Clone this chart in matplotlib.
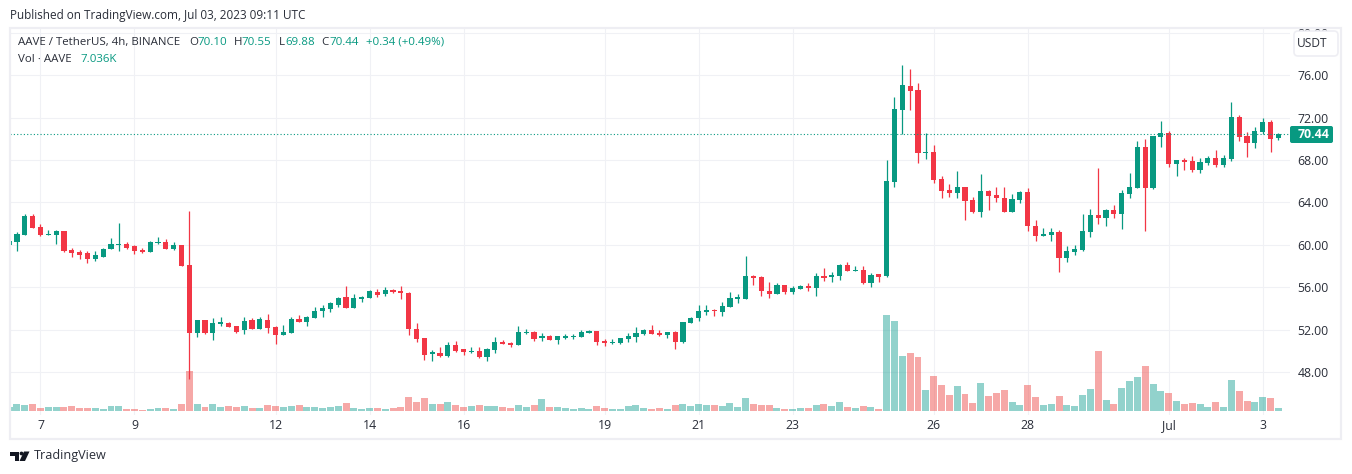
import numpy as np
import matplotlib
matplotlib.use('Agg')
import matplotlib.pyplot as plt
from matplotlib.patches import FancyBboxPatch, Rectangle, Polygon, Circle

plt.rcParams['font.family'] = ['Open Sans', 'DejaVu Sans']

# velas de 4h, del 6 de junio al 3 de julio (precio en USDT)
opens = [60.0, 60.28, 60.94, 62.73, 61.69, 60.94, 60.94, 61.32, 59.52, 59.33, 59.24, 58.67, 58.86, 59.62, 59.99, 60.09,
         59.9, 59.52, 59.33, 60.18, 60.28, 59.62, 59.99, 58.11, 51.69, 52.92, 51.69, 52.54, 52.64, 52.35, 51.98, 52.92,
         52.07, 52.92, 52.26, 51.5, 51.69, 53.01, 52.73, 53.11, 53.77, 53.96, 54.33, 55.08, 54.05, 54.9, 54.99, 55.55,
         55.37, 55.74, 55.65, 55.46, 52.06, 51.21, 49.71, 49.8, 49.52, 50.55, 50.18, 49.89, 49.99, 49.42, 50.08, 50.84,
         50.74, 50.55, 51.69, 51.78, 51.21, 51.4, 51.03, 51.21, 51.31, 51.31, 51.69, 51.87, 50.93, 50.74, 50.74, 51.12,
         51.31, 51.59, 51.97, 51.69, 51.5, 51.78, 50.84, 52.63, 53.1, 53.67, 53.86, 53.67, 54.14, 54.89, 54.89, 57.06,
         56.97, 55.65, 55.36, 56.21, 55.55, 55.84, 56.12, 55.93, 57.06, 56.97, 57.06, 58.1, 57.53, 57.63, 56.4, 57.25,
         57.06, 65.93, 72.72, 74.99, 74.61, 68.67, 68.76, 66.21, 65.18, 64.89, 65.46, 64.23, 63.1, 65.08, 64.7, 64.42,
         63.1, 64.23, 64.99, 61.78, 60.84, 60.93, 61.21, 58.76, 59.33, 59.52, 61.21, 62.82, 62.53, 63.29, 62.91, 64.8,
         65.36, 69.23, 65.36, 70.18, 70.55, 67.63, 68.0, 67.91, 67.06, 67.72, 68.2, 67.53, 68.1, 72.06, 70.27, 69.61,
         70.65, 71.59, 70.10]
highs = [60.4, 61.19, 62.92, 62.92, 61.98, 61.41, 61.41, 61.32, 59.71, 59.52, 59.43, 59.43, 59.71, 60.66, 62.07, 60.28,
         59.99, 59.71, 60.37, 60.75, 60.56, 60.28, 59.99, 63.2, 52.92, 52.92, 53.11, 53.2, 52.73, 52.35, 53.2, 53.11,
         53.2, 53.49, 52.35, 52.45, 53.2, 53.39, 53.3, 54.15, 54.33, 54.62, 55.09, 56.12, 55.37, 55.18, 55.74, 55.84,
         56.03, 55.84, 56.12, 55.55, 52.63, 51.21, 50.08, 50.37, 50.84, 50.93, 50.18, 50.37, 50.37, 50.27, 51.31, 51.03,
         50.84, 52.35, 52.06, 51.87, 51.69, 51.5, 51.4, 51.59, 51.59, 51.97, 51.97, 51.87, 51.12, 51.12, 51.21, 51.69,
         52.25, 52.06, 52.44, 51.97, 51.78, 51.87, 52.72, 53.2, 54.33, 54.33, 53.95, 54.61, 55.55, 55.36, 58.95, 57.16,
         57.06, 56.5, 56.4, 56.21, 56.12, 56.21, 56.4, 57.35, 57.82, 57.44, 58.2, 58.38, 58.0, 58.0, 57.35, 57.25,
         68.0, 73.95, 76.97, 76.59, 75.27, 70.52, 69.42, 66.5, 65.74, 66.97, 65.46, 64.5, 66.68, 65.18, 65.46, 65.46,
         64.8, 65.08, 65.36, 62.35, 61.59, 61.59, 61.4, 59.89, 59.99, 62.91, 63.38, 67.25, 63.38, 63.76, 65.18, 66.78,
         69.8, 69.99, 70.27, 71.69, 70.74, 68.0, 68.2, 68.38, 68.2, 68.38, 68.95, 68.48, 73.48, 72.25, 70.65, 71.12,
         71.97, 71.78, 70.55]
lows = [59.9, 59.43, 60.9, 61.6, 60.84, 60.94, 60.09, 59.33, 58.86, 58.67, 58.3, 58.48, 58.86, 59.62, 59.43, 59.62,
        59.15, 59.24, 59.33, 60.09, 59.62, 59.52, 58.01, 47.35, 51.32, 51.6, 51.03, 52.35, 52.26, 51.69, 51.6, 52.07,
        52.07, 51.69, 50.66, 51.5, 51.69, 52.73, 52.35, 53.11, 53.2, 53.67, 54.15, 54.05, 54.05, 54.61, 54.99, 55.08,
        55.18, 55.46, 54.89, 51.5, 50.84, 49.14, 49.05, 49.42, 49.42, 49.89, 49.61, 49.8, 49.33, 49.05, 49.8, 50.65,
        50.37, 50.55, 51.59, 50.93, 50.93, 51.03, 50.65, 51.12, 51.12, 51.31, 51.69, 50.55, 50.46, 50.65, 50.65, 50.84,
        50.84, 51.5, 51.59, 51.4, 51.21, 50.18, 50.74, 52.63, 52.82, 53.38, 53.29, 53.29, 54.14, 54.52, 54.89, 56.21,
        55.18, 55.0, 55.36, 55.36, 55.36, 55.84, 55.65, 55.18, 56.59, 56.5, 56.68, 57.53, 57.53, 56.31, 56.02, 56.5,
        56.97, 65.46, 70.46, 72.72, 67.72, 68.1, 65.84, 64.42, 64.52, 64.42, 62.35, 63.0, 62.63, 63.29, 64.04, 63.1,
        63.1, 63.95, 61.31, 60.37, 60.84, 60.37, 57.44, 58.38, 59.04, 59.42, 60.74, 61.97, 61.78, 62.53, 61.5, 64.42,
        65.36, 61.31, 65.27, 69.23, 67.35, 66.5, 67.06, 66.87, 66.78, 67.53, 67.35, 67.35, 67.91, 69.8, 68.29, 69.14,
        70.46, 68.76, 69.88]
closes = [60.37, 61.03, 62.73, 61.6, 60.9, 61.03, 61.32, 59.43, 59.24, 59.05, 58.67, 59.05, 59.62, 60.09, 60.09, 59.71,
          59.43, 59.33, 60.28, 60.28, 59.62, 59.99, 58.01, 51.69, 52.92, 51.69, 52.64, 52.73, 52.26, 51.79, 52.82, 52.07,
          53.01, 52.16, 51.5, 51.79, 53.01, 52.73, 53.2, 53.77, 54.05, 54.52, 54.99, 54.05, 54.99, 55.08, 55.65, 55.27,
          55.74, 55.55, 55.46, 52.06, 51.12, 49.61, 49.89, 49.52, 50.55, 49.99, 49.89, 49.99, 49.42, 50.18, 50.84, 50.65,
          50.55, 51.78, 51.78, 51.12, 51.4, 51.03, 51.4, 51.4, 51.4, 51.78, 51.87, 50.84, 50.74, 50.84, 51.21, 51.4,
          51.69, 51.97, 51.59, 51.5, 51.78, 50.84, 52.72, 53.1, 53.76, 53.86, 53.76, 54.23, 54.99, 55.08, 57.06, 56.87,
          55.65, 55.36, 56.21, 55.55, 55.93, 56.12, 55.93, 57.06, 56.87, 57.16, 58.1, 57.53, 57.63, 56.4, 57.16, 56.97,
          66.03, 72.82, 75.08, 74.52, 68.67, 68.76, 66.12, 65.08, 64.89, 65.46, 64.14, 63.1, 65.08, 64.61, 64.42, 63.1,
          64.33, 64.99, 61.78, 60.84, 61.03, 61.21, 58.76, 59.42, 59.61, 61.31, 62.82, 62.53, 63.29, 62.91, 64.89, 65.46,
          69.23, 65.36, 70.27, 70.55, 67.63, 68.0, 67.82, 67.06, 67.82, 68.2, 67.53, 68.2, 72.06, 70.18, 69.61, 70.74,
          71.59, 69.99, 70.44]
# volumen en miles de AAVE
volumes = [9.4, 16.4, 14.1, 16.4, 7.0, 9.4, 9.4, 9.4, 11.7, 7.0, 7.0, 7.0, 4.7, 11.7, 11.7, 4.7,
           4.7, 2.3, 4.7, 7.0, 7.0, 4.7, 16.4, 93.8, 16.4, 9.4, 16.4, 9.4, 11.7, 9.4, 11.7, 7.0,
           7.0, 14.1, 11.7, 9.4, 11.7, 14.1, 9.4, 9.4, 7.0, 9.4, 11.7, 18.8, 7.0, 4.7, 7.0, 7.0,
           4.7, 7.0, 9.4, 32.8, 21.1, 30.5, 16.4, 16.4, 21.1, 14.1, 9.4, 11.7, 14.1, 11.7, 11.7, 9.4,
           7.0, 14.1, 9.4, 14.1, 28.1, 9.4, 9.4, 7.0, 4.7, 7.0, 4.7, 11.7, 7.0, 4.7, 4.7, 11.7,
           14.1, 7.0, 4.7, 7.0, 4.7, 14.1, 16.4, 11.7, 16.4, 14.1, 14.1, 11.7, 18.8, 9.4, 30.5, 16.4,
           14.1, 14.1, 7.0, 4.7, 4.7, 7.0, 7.0, 14.1, 16.4, 11.7, 21.1, 9.4, 7.0, 11.7, 9.4, 4.7,
           225.1, 211.1, 129.0, 136.0, 126.6, 49.2, 82.1, 61.0, 37.5, 58.6, 39.9, 18.8, 65.7, 35.2, 42.2, 49.2,
           21.1, 14.1, 61.0, 32.8, 14.1, 16.4, 35.2, 14.1, 11.7, 37.5, 51.6, 140.7, 25.8, 16.4, 53.9, 70.4,
           79.7, 105.5, 63.3, 46.9, 42.2, 23.5, 16.4, 18.8, 16.4, 9.4, 21.1, 9.4, 72.7, 46.9, 23.5, 21.1,
           32.8, 30.5, 7.036]

bar_pos = np.arange(-4, 159)
date_ticks = [0, 12, 30, 42, 54, 72, 84, 96, 114, 126, 144, 156]
date_labels = ['7', '9', '12', '14', '16', '19', '21', '23', '26', '28', 'Jul', '3']
price_ticks = [48, 52, 56, 60, 64, 68, 72, 76, 80]
last_price = 70.44

UP = '#089981'
DOWN = '#f23645'
GRID = '#f0f1f5'
TEXT = '#2a2e39'

opens = np.array(opens)
closes = np.array(closes)
up = closes >= opens

W, H = 1352, 474
fig = plt.figure(figsize=(W / 100, H / 100), dpi=100)
pane = [10 / W, 1 - 415 / H, 1280 / W, 387 / H]

# capa de fondo: rejilla y etiquetas de los ejes
ax = fig.add_axes(pane)
ax.set_xlim(-3.89, 159.48)
ax.set_ylim(43.95, 80.46)
ax.set_xticks(date_ticks, date_labels)
ax.set_yticks(price_ticks, ['%.2f' % p for p in price_ticks])
ax.grid(True, color=GRID, lw=0.75)
ax.set_axisbelow(True)
for s in ax.spines.values():
    s.set_visible(False)

# volumen
ax_vol = ax.twinx()
ax_vol.set_ylim(-9.38, 898.1)
ax_vol.bar(bar_pos, volumes, width=0.89, color=np.where(up, '#26a69a', '#ef5350'), alpha=0.5, lw=0)
ax_vol.axis('off')

# velas
ax_c = ax.twinx()
ax_c.set_ylim(43.95, 80.46)
colors = np.where(up, UP, DOWN)
ax_c.vlines(bar_pos, lows, highs, colors=colors, lw=0.9)
ax_c.bar(bar_pos, np.abs(closes - opens), bottom=np.minimum(opens, closes), width=0.66, color=colors, lw=0)
ax_c.axhline(last_price, color=UP, lw=0.8, ls=(0, (1, 2)))
ax_c.axis('off')

# twinx devuelve los ticks a la izquierda, se cambian despues
ax.yaxis.tick_right()
ax.tick_params(axis='x', length=0, pad=3, labelsize=8.8, labelcolor=TEXT)
ax.tick_params(axis='y', length=0, pad=5.5, labelsize=8.8, labelcolor=TEXT)

# capa en pixeles para marco, cabecera y leyenda
over = fig.add_axes([0, 0, 1, 1], zorder=5)
over.set_xlim(0, W)
over.set_ylim(H, 0)
over.axis('off')
over.add_patch(Rectangle((10, 27.5), 1330.5, 411, fill=False, ec='#eeeef3', lw=1.6))

over.add_patch(FancyBboxPatch((1294, 31), 44, 25, boxstyle='round,pad=0,rounding_size=4',
                              fc='white', ec='#eeeef3', lw=1.2))
over.text(1297, 43.5, 'USDT', fontsize=8.6, color=TEXT, va='center')

over.add_patch(FancyBboxPatch((1290, 126), 43, 17, boxstyle='round,pad=0,rounding_size=2', fc=UP, ec='none'))
over.text(1298, 134.5, '%.2f' % last_price, fontsize=8.8, color='white', weight='bold', va='center')

over.text(10, 15, 'Published on TradingView.com, Jul 03, 2023 09:11 UTC', fontsize=8.45, color=TEXT, va='center')

legend = [(18, 'AAVE / TetherUS, 4h, BINANCE', TEXT), (189, 'O', TEXT), (197, '70.10', UP), (234, 'H', TEXT),
          (241, '70.55', UP), (279, 'L', TEXT), (285, '69.88', UP), (321, 'C', TEXT), (329, '70.44', UP),
          (366, '+0.34 (+0.49%)', UP)]
for lx, txt, col in legend:
    over.text(lx, 42, txt, fontsize=8.25, color=col, va='center')
over.text(18, 59, 'Vol · AAVE', fontsize=8.25, color=TEXT, va='center')
over.text(80, 59, '7.036K', fontsize=8.25, color=UP, va='center')

# logo
over.add_patch(Polygon([(10, 451.5), (19, 451.5), (19, 461), (14.5, 461), (14.5, 455.5), (10, 455.5)], fc='#131722', ec='none'))
over.add_patch(Circle((21.5, 453.5), 1.9, fc='#131722', ec='none'))
over.add_patch(Polygon([(24, 451.5), (29.5, 451.5), (25, 461), (19.5, 461)], fc='#131722', ec='none'))
over.text(34, 456, 'TradingView', fontsize=9.1, color=TEXT, va='center')

fig.savefig('out.png', dpi=100)
